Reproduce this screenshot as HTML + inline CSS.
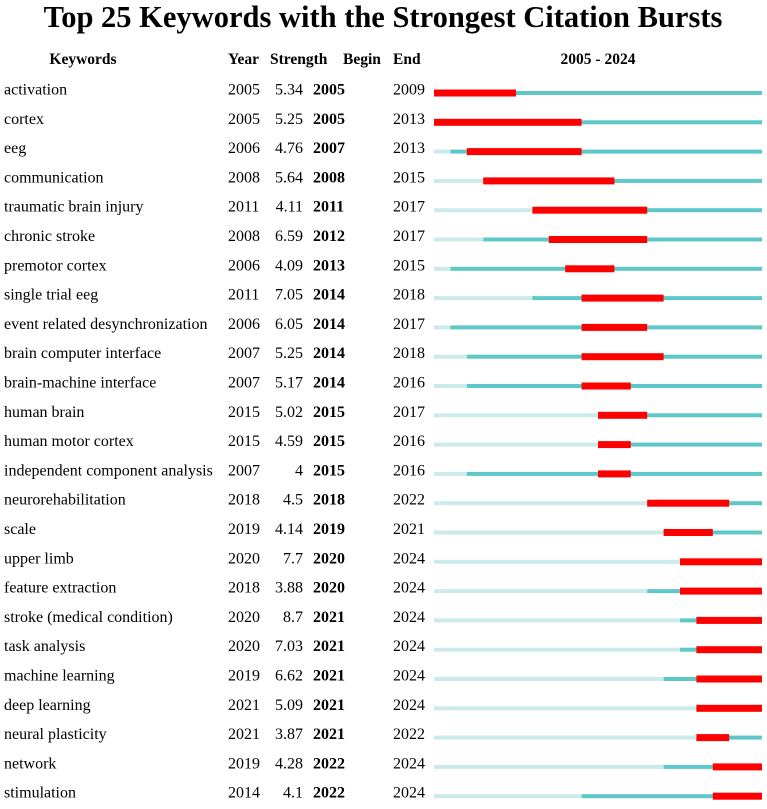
<!DOCTYPE html>
<html><head><meta charset="utf-8"><style>
body{margin:0;background:#fff;width:767px;height:804px;overflow:hidden;font-family:"Liberation Serif",serif;}
svg text{font-family:"Liberation Serif",serif;}
</style></head><body>
<svg id="c" width="767" height="804">
<text x="383" y="27" text-anchor="middle" font-size="30.5" font-weight="bold">Top 25 Keywords with the Strongest Citation Bursts</text>
<g font-size="15.5" font-weight="bold">
<text x="83" y="64" text-anchor="middle">Keywords</text>
<text x="228" y="64">Year</text>
<text x="270" y="64">Strength</text>
<text x="343" y="64">Begin</text>
<text x="393" y="64">End</text>
<text x="598" y="64" text-anchor="middle">2005 - 2024</text>
</g>
<g id="rows"></g>
</svg>
<script>
const keywords=["activation","cortex","eeg","communication","traumatic brain injury","chronic stroke","premotor cortex","single trial eeg","event related desynchronization","brain computer interface","brain-machine interface","human brain","human motor cortex","independent component analysis","neurorehabilitation","scale","upper limb","feature extraction","stroke (medical condition)","task analysis","machine learning","deep learning","neural plasticity","network","stimulation"];
const years=[2005,2005,2006,2008,2011,2008,2006,2011,2006,2007,2007,2015,2015,2007,2018,2019,2020,2018,2020,2020,2019,2021,2021,2019,2014];
const strengths=["5.34","5.25","4.76","5.64","4.11","6.59","4.09","7.05","6.05","5.25","5.17","5.02","4.59","4","4.5","4.14","7.7","3.88","8.7","7.03","6.62","5.09","3.87","4.28","4.1"];
const begins=[2005,2005,2007,2008,2011,2012,2013,2014,2014,2014,2014,2015,2015,2015,2018,2019,2020,2020,2021,2021,2021,2021,2021,2022,2022];
const ends=[2009,2013,2013,2015,2017,2017,2015,2018,2017,2018,2016,2017,2016,2016,2022,2021,2024,2024,2024,2024,2024,2024,2022,2024,2024];
const y0=2005,y1=2024,x0=434,x1=762;
const X=y=>x0+(y-y0)*(x1-x0)/(y1-y0+1);
const RY=i=>89+i*29.3;
const g=document.getElementById('rows');const NS='http://www.w3.org/2000/svg';
function mk(t,a,txt){const e=document.createElementNS(NS,t);for(const k in a)e.setAttribute(k,a[k]);if(txt!==undefined)e.textContent=txt;g.appendChild(e);return e;}
keywords.forEach((k,i)=>{const y=RY(i)+5.5;
let e=mk('text',{x:4,y:y,'font-size':16},k);


e=mk('text',{x:228,y:y,'font-size':16},years[i]);


e=mk('text',{x:303,y:y,'font-size':16,'text-anchor':'end'},strengths[i]);


e=mk('text',{x:313,y:y,'font-size':16,'font-weight':'bold'},begins[i]);


e=mk('text',{x:393,y:y,'font-size':16},ends[i]);


const by=RY(i)+4;
e=mk('rect',{x:x0,y:by-2,width:X(years[i])-x0,height:4,fill:'#cdeaea'});


e=mk('rect',{x:X(years[i]),y:by-2,width:x1-X(years[i]),height:4,fill:'#5ec8c8'});


e=mk('rect',{x:X(begins[i]),y:by-3.5,width:X(ends[i]+1)-X(begins[i]),height:7,fill:'#ff0000'});


});
</script>
</body></html>
